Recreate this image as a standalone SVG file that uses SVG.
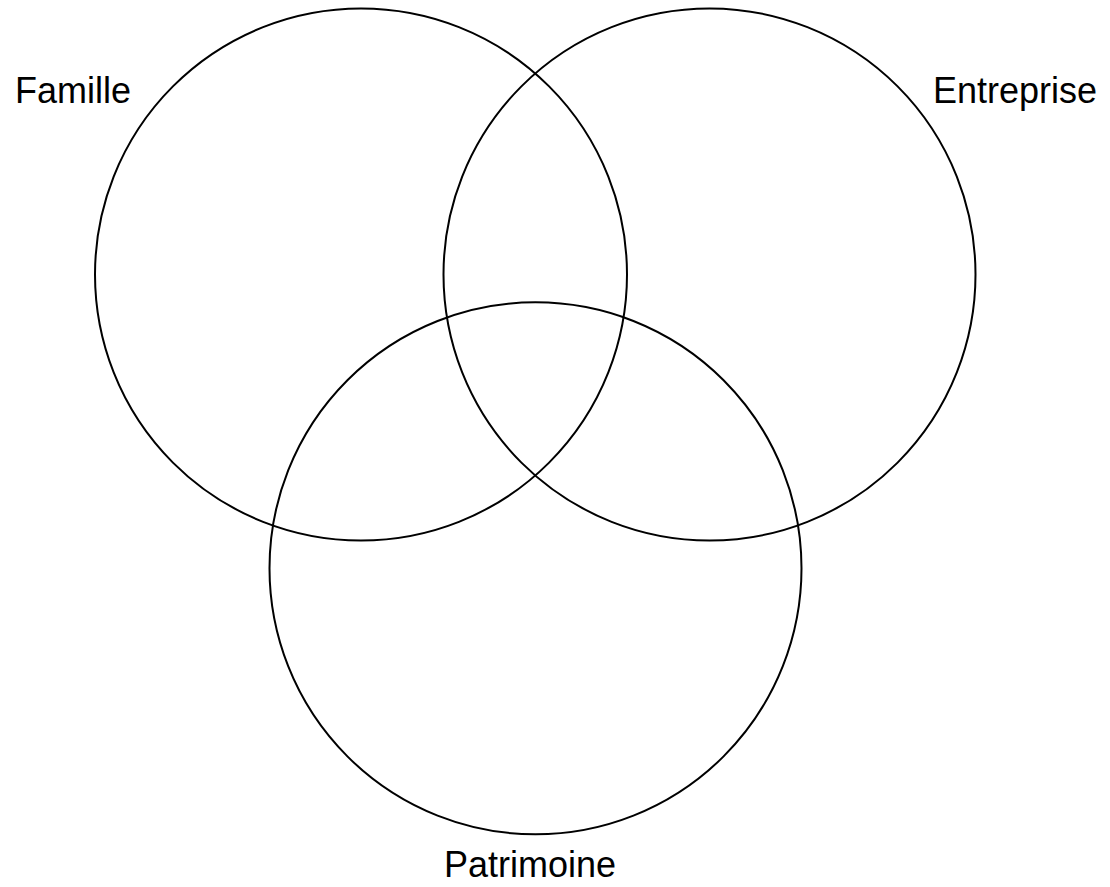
<svg xmlns="http://www.w3.org/2000/svg" width="1110" height="887" viewBox="0 0 1110 887">
<style>
.c{fill:none;stroke:#000;stroke-width:2}
.t{font-family:"Liberation Sans",Arial,sans-serif;font-size:36px;fill:#000}
</style>
<rect width="1110" height="887" fill="#fff"/>
<g id="famille">
<circle class="c" cx="361" cy="274.5" r="266"/>
<text class="t" x="15" y="103">Famille</text>
</g>
<g id="entreprise">
<circle class="c" cx="709.5" cy="274.5" r="266"/>
<text class="t" x="933" y="103">Entreprise</text>
</g>
<g id="patrimoine">
<circle class="c" cx="535.5" cy="568.3" r="266"/>
<text class="t" x="444" y="877">Patrimoine</text>
</g>
<g id="connectors"></g>
</svg>
